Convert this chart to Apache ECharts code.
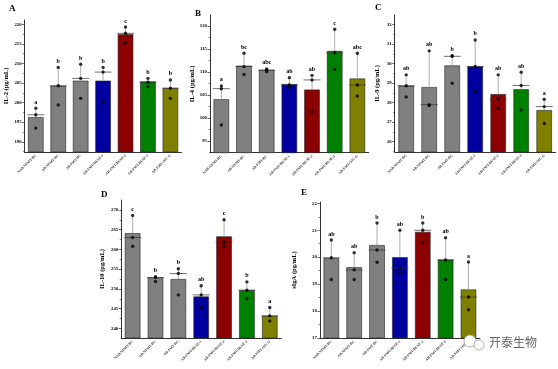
<!DOCTYPE html>
<html><head><meta charset="utf-8">
<script src="https://cdn.jsdelivr.net/npm/echarts@6/dist/echarts.min.js"></script>
<style>html,body{margin:0;padding:0;background:#fff}#c{width:558px;height:369px}</style>
</head><body><div id="c"></div>
<script>
// ---------- data ----------
const categories = ['NAB-NFMT-BC','AB-NFMT-BC','AB-FMT-BC','AB-FMT-RUSE-1','AB-FMT-RUSE-2','AB-FMT-RUSE-3','AB-FMT-OIC G'];

const il2Means   = [196.3, 204.3, 205.6, 205.6, 217.5, 205.4, 203.7];
const il2Points  = [[198.6,196.9,193.5],[209.0,204.3,199.4],[209.8,206.2,201.1],[209.0,207.8,200.2],[219.3,217.7,215.2],[206.2,205.2,204.1],[205.8,203.7,201.1]];
const il2Letters = ['a','b','b','b','c','b','b'];
const il2Ticks   = [190,195,200,205,210,215,220];

const il4Means   = [104.1, 111.4, 110.5, 107.4, 106.2, 114.6, 108.6];
const il4Points  = [[107.0,106.4,98.5],[114.1,111.2,109.5],[110.7,110.4,110.1],[108.8,107.2,106.7],[109.3,108.3,101.4],[119.3,114.2,110.6],[114.1,107.2,104.8]];
const il4Letters = ['a','bc','abc','ab','ab','c','abc'];
const il4Ticks   = [95,100,105,110,115,120];

const il9Means   = [28.87, 28.80, 29.91, 29.86, 28.44, 28.69, 27.62];
const il9Points  = [[29.43,28.87,28.29],[30.66,27.90,27.85],[30.41,30.38,29.00],[31.22,29.86,28.60],[29.43,28.18,27.72],[29.56,28.88,27.62],[28.18,27.80,26.93]];
const il9Letters = ['ab','ab','b','b','ab','ab','a'];
const il9Ticks   = [26,27,28,29,30,31,32];

const il10Means   = [264.1, 252.9, 252.5, 248.1, 263.3, 249.7, 243.2];
const il10Points  = [[268.6,263.0,260.8],[253.1,252.9,251.9],[255.1,253.9,248.5],[250.8,248.5,245.3],[267.5,261.9,260.8],[251.8,249.7,247.5],[245.3,243.2,241.9]];
const il10Letters = ['c','b','b','ab','c','b','a'];
const il10Ticks   = [240,245,250,255,260,265,270];

const sigaMeans   = [19.96, 19.63, 20.45, 20.00, 20.94, 19.91, 18.80];
const sigaPoints  = [[20.64,19.98,19.17],[20.17,19.53,19.17],[21.27,20.27,19.81],[21.00,19.60,19.44],[21.27,21.00,20.54],[20.72,19.90,19.17],[19.82,18.52,18.05]];
const sigaLetters = ['ab','ab','b','ab','b','ab','a'];
const sigaTicks   = [17,18,19,20,21,22];

// ---------- styles / layout ----------
const barColors = ['#808080','#808080','#808080','#0000a0','#8b0000','#008000','#808000'];
const SERIF = '"Liberation Serif","DejaVu Serif",serif';

const panels = [
  {tag:'A', title:'IL-2 (pg/mL)', means:il2Means, points:il2Points, letters:il2Letters, ticks:il2Ticks, min:187.4, max:221.1,
   grid:{left:24.6, top:20, width:157, height:132}, nameGap:15, tagPos:[13,9]},
  {tag:'B', title:'IL-4 (pg/mL)', means:il4Means, points:il4Points, letters:il4Letters, ticks:il4Ticks, min:92.5, max:122.4,
   grid:{left:210, top:15, width:158.7, height:137.7}, nameGap:14, tagPos:[199,14]},
  {tag:'C', title:'IL-9 (pg/mL)', means:il9Means, points:il9Points, letters:il9Letters, ticks:il9Ticks, min:25.47, max:32.5,
   grid:{left:394.7, top:15, width:161, height:137}, nameGap:13.5, tagPos:[379,8]},
  {tag:'D', title:'IL-10 (pg/mL)', means:il10Means, points:il10Points, letters:il10Letters, ticks:il10Ticks, min:237.6, max:272.5,
   grid:{left:121.2, top:200, width:160, height:138}, nameGap:15, tagPos:[105,195]},
  {tag:'E', title:'sIgA (pg/mL)', means:sigaMeans, points:sigaPoints, letters:sigaLetters, ticks:sigaTicks, min:17, max:22.05,
   grid:{left:319.9, top:202, width:160, height:136}, nameGap:22, tagPos:[305,193]}
];

const grids = [], xAxes = [], yAxes = [], series = [], graphics = [];

panels.forEach((p, k) => {
  grids.push(Object.assign({containLabel:false}, p.grid));
  const step = p.ticks[1] - p.ticks[0];
  const minor = [];
  p.ticks.forEach(t => { const m = t - step/2; if (m > p.min) minor.push(m); });
  const lastMid = p.ticks[p.ticks.length-1] + step/2; if (lastMid < p.max) minor.push(lastMid);

  xAxes.push({
    type:'category', gridIndex:k, data:categories, boundaryGap:true, position:'bottom',
    axisLine:{lineStyle:{color:'#000', width:0.8}},
    axisTick:{show:false},
    axisLabel:{rotate:45, fontSize:3.6, color:'#333', margin:3, fontFamily:SERIF, fontWeight:'bold', interval:0},
    splitLine:{show:false}
  });
  yAxes.push({
    type:'value', gridIndex:k, min:p.min, max:p.max, position:'left',
    axisLine:{show:true, lineStyle:{color:'#000', width:0.8}},
    axisTick:{show:true, customValues:p.ticks, length:2.5, lineStyle:{color:'#000', width:0.6}},
    axisLabel:{customValues:p.ticks, fontSize:4.8, fontWeight:'bold', fontFamily:SERIF, color:'#000', margin:3},
    splitLine:{show:false},
    name:p.title, nameLocation:'middle', nameRotate:90, nameGap:p.nameGap,
    nameTextStyle:{fontSize:6.5, fontWeight:'bold', fontFamily:SERIF, color:'#000'}
  });
  yAxes.push({
    type:'value', gridIndex:k, min:p.min, max:p.max, position:'left', offset:0,
    axisLine:{show:false},
    axisTick:{show:true, customValues:minor, length:1.5, lineStyle:{color:'#000', width:0.5}},
    axisLabel:{show:false}, splitLine:{show:false}
  });

  series.push({
    type:'bar', xAxisIndex:k, yAxisIndex:2*k, barWidth:15.5, z:2,
    data:p.means.map((v,i)=>({value:v, itemStyle:{color:barColors[i], borderColor:'#222', borderWidth:0.6}})),
    silent:true, animation:false
  });

  const cdata = p.means.map((v,i)=>{
    const s = p.points[i].slice().sort((a,b)=>a-b);
    return [i, v, s[2], s[1]];
  });
  const letters = p.letters;
  series.push({
    type:'custom', xAxisIndex:k, yAxisIndex:2*k, z:3, animation:false, silent:true,
    data:cdata,
    renderItem:(params, api)=>{
      const c = api.value(0);
      const pm = api.coord([c, api.value(1)]);
      const pt = api.coord([c, api.value(2)]);
      const pd = api.coord([c, api.value(3)]);
      return {type:'group', children:[
        {type:'line', shape:{x1:pm[0], y1:pm[1], x2:pt[0], y2:pt[1]}, style:{stroke:'#9a9a9a', lineWidth:0.8}},
        {type:'line', shape:{x1:pd[0]-8.5, y1:pd[1], x2:pd[0]+8.5, y2:pd[1]}, style:{stroke:'#333', lineWidth:0.7}},
        {type:'text', x:pt[0], y:pt[1]-3, style:{text:letters[params.dataIndex], fontSize:6, fontWeight:'bold', fontFamily:SERIF, fill:'#000', align:'center', verticalAlign:'bottom'}}
      ]};
    }
  });

  const sdata = [];
  p.points.forEach((arr,i)=>arr.forEach(v=>sdata.push([i, v])));
  series.push({
    type:'scatter', xAxisIndex:k, yAxisIndex:2*k, z:4, data:sdata,
    symbol:'circle', symbolSize:3.4, itemStyle:{color:'#000'}, silent:true, animation:false
  });

  graphics.push({type:'text', left:p.tagPos[0]-4, top:p.tagPos[1]-5,
    style:{text:p.tag, fontSize:9, fontWeight:'bold', fontFamily:SERIF, fill:'#000'}});
});

// watermark
graphics.push({type:'circle', shape:{cx:470, cy:341, r:6}, style:{fill:'#fff', stroke:'#999', lineWidth:0.8}, z:100});
graphics.push({type:'circle', shape:{cx:479, cy:345, r:5}, style:{fill:'#fff', stroke:'#999', lineWidth:0.8}, z:100});
graphics.push({type:'text', left:489, top:336, z:100,
  style:{text:'开泰生物', fontSize:12, fontFamily:'"Noto Sans CJK SC",sans-serif', fill:'#666'}});

const chart = echarts.init(document.getElementById('c'), null, {renderer:'canvas'});
chart.setOption({
  backgroundColor:'#fff', animation:false,
  grid:grids, xAxis:xAxes, yAxis:yAxes, series:series, graphic:graphics
});
</script></body></html>
